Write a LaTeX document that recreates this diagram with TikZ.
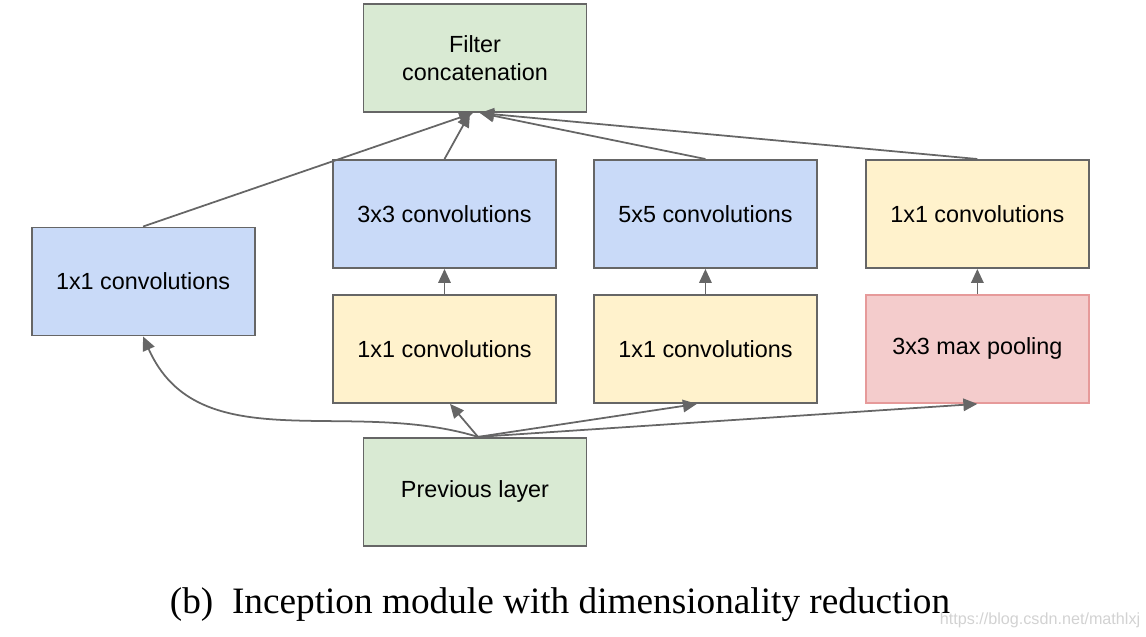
\documentclass[tikz,border=0pt]{standalone}
\usepackage{fontspec}
\setmainfont{Liberation Serif}
\setsansfont{Liberation Sans}
\usetikzlibrary{arrows.meta, positioning}
\definecolor{boxline}{HTML}{666666}
\definecolor{greenfill}{HTML}{D9EAD3}
\definecolor{bluefill}{HTML}{C9DAF8}
\definecolor{yellowfill}{HTML}{FFF2CC}
\definecolor{redfill}{HTML}{F4CCCC}
\definecolor{redline}{HTML}{E69A9A}
\tikzstyle{layer} = [rectangle, minimum width=4.46cm, minimum height=2.16cm, text centered, align=center, line width=1.1pt, draw=boxline, font=\sffamily\fontsize{13.3}{16}\selectfont]
\tikzstyle{concat} = [layer, fill=greenfill]
\tikzstyle{conv} = [layer, fill=bluefill]
\tikzstyle{reduce} = [layer, fill=yellowfill]
\tikzstyle{pooling} = [layer, fill=redfill, draw=redline]
\tikzstyle{arrow} = [line width=1pt, draw=boxline, -{Triangle[length=0.28cm, width=0.25cm]}]

\begin{document}
\begin{tikzpicture}
    \useasboundingbox (0,0) rectangle (22.92,-12.74);
    \node (conv3) [conv] at (8.89,-4.28) {3x3 convolutions};
    \node (conv5) [conv, right=0.72cm of conv3] {5x5 convolutions};
    \node (pool1) [reduce, right=0.94cm of conv5] {1x1 convolutions};
    \node (red3) [reduce, below=0.5cm of conv3] {1x1 convolutions};
    \node (red5) [reduce, below=0.5cm of conv5] {1x1 convolutions};
    \node (pool) [pooling, below=0.5cm of pool1] {3x3 max pooling};
    \node (left) [conv, left=1.53cm of conv3, yshift=-1.35cm] {1x1 convolutions};
    \node (concat) [concat, above=0.92cm of conv3, xshift=0.61cm] {Filter\\concatenation};
    \node (prev) [concat, below=0.66cm of red3, xshift=0.61cm] {Previous layer};
    \node (caption) at (11.2,-12.1) {\fontsize{21.2}{25}\selectfont (b)\ \ Inception module with dimensionality reduction};
    \node (mark) [text=gray!35, font=\sffamily\fontsize{9.2}{11}\selectfont] at (20.8,-12.4) {https://blog.csdn.net/mathlxj};

    \draw [arrow] (left.north) -- ([xshift=-0.04cm]concat.south);
    \draw [arrow] (conv3.north) -- ([xshift=-0.1cm]concat.south);
    \draw [arrow] (conv5.north) -- ([xshift=0.1cm]concat.south);
    \draw [arrow] (pool1.north) -- ([xshift=0.1cm]concat.south);
    \draw [arrow] (red3) -- (conv3);
    \draw [arrow] (red5) -- (conv5);
    \draw [arrow] (pool) -- (pool1);
    \draw [arrow] ([xshift=0.06cm]prev.north) to[out=163, in=-66] (left.south);
    \draw [arrow] ([xshift=0.06cm]prev.north) -- ([xshift=0.11cm]red3.south);
    \draw [arrow] ([xshift=0.06cm]prev.north) -- ([xshift=-0.17cm]red5.south);
    \draw [arrow] ([xshift=0.06cm]prev.north) -- (pool.south);
\end{tikzpicture}
\end{document}
